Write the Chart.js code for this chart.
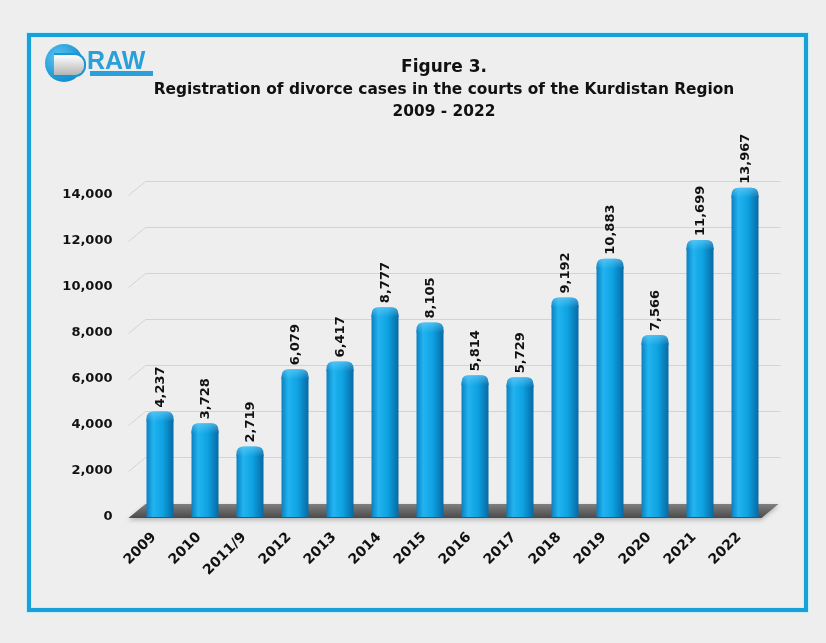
<!DOCTYPE html>
<html>
<head>
<meta charset="utf-8">
<script src="https://cdn.jsdelivr.net/npm/chart.js@4.4.1/dist/chart.umd.min.js"></script>
<style>
  html, body { margin: 0; padding: 0; background: #eeeeee; }
  #wrap { position: relative; width: 826px; height: 643px; overflow: hidden; }
  #frame {
    position: absolute; left: 27px; top: 33px; width: 781px; height: 579px;
    box-sizing: border-box; border: 4px solid #18a0d8;
    box-shadow: inset 0 0 0 1px #c8eef9, 0 0 0 1px #c8eef9;
    background: #eeeeee;
  }
  #chart { position: absolute; left: 0; top: 0; }
  #logo { position: absolute; left: 45px; top: 44px; width: 120px; height: 42px; }
  #logo .circle {
    position: absolute; left: 0; top: 0; width: 38px; height: 38px; border-radius: 50%;
    background: radial-gradient(circle at 35% 35%, #5cc6f2, #1490d0 70%);
  }
  #logo .d {
    position: absolute; left: 9px; top: 9px; width: 30px; height: 20px;
    border-radius: 0 11px 11px 0; background: linear-gradient(#ffffff, #b5b5b5);
    border: 2px solid #1a96d4; border-left: 0;
  }
  #logo .word {
    position: absolute; left: 42px; top: 2px; font: bold 25px "Liberation Sans", Arial, sans-serif;
    color: #2a9fd8;
  }
  #logo .bar {
    position: absolute; left: 45px; top: 27px; width: 63px; height: 5px; background: #2a9fd8;
  }
</style>
</head>
<body>
<div id="wrap">
  <div id="frame"></div>
  <canvas id="chart" width="826" height="643"></canvas>
  <div id="logo"><div class="circle"></div><div class="d"></div><div class="word">RAW</div><div class="bar"></div></div>
</div>
<script>
const years = ["2009", "2010", "2011/9", "2012", "2013", "2014", "2015", "2016", "2017", "2018", "2019", "2020", "2021", "2022"];
const divorceCases = [4237, 3728, 2719, 6079, 6417, 8777, 8105, 5814, 5729, 9192, 10883, 7566, 11699, 13967];
const yTicks = [0, 2000, 4000, 6000, 8000, 10000, 12000, 14000];

const fontFamily = "'DejaVu Sans', Verdana, sans-serif";
const depth = { dx: 17, dy: 14 };
const capHeight = 8;

function blueGradient(ctx, cx, half) {
    const g = ctx.createLinearGradient(cx - half, 0, cx + half, 0);
    g.addColorStop(0, "#0a7fbf");
    g.addColorStop(0.25, "#22b4f0");
    g.addColorStop(0.6, "#0ea2e2");
    g.addColorStop(1, "#066aa4");
    return g;
}

// perspective gridlines and the dark floor under the bars
const floorPlugin = {
    id: "floor",
    beforeDatasetsDraw(chart) {
        const { ctx, chartArea, scales } = chart;
        const left = chartArea.left - 9;
        ctx.save();
        ctx.strokeStyle = "#d3d3d3";
        ctx.lineWidth = 1;
        yTicks.forEach(v => {
            if (v === 0) return;
            const y = Math.round(scales.y.getPixelForValue(v)) + 0.5;
            ctx.beginPath();
            ctx.moveTo(left, y);
            ctx.lineTo(left + depth.dx, y - depth.dy);
            ctx.lineTo(chartArea.right + 13, y - depth.dy);
            ctx.stroke();
        });
        const y0 = scales.y.getPixelForValue(0) + 1;
        const right = chartArea.right - 6;
        const g = ctx.createLinearGradient(0, y0 - depth.dy, 0, y0);
        g.addColorStop(0, "#808080");
        g.addColorStop(1, "#4a4a4a");
        ctx.fillStyle = g;
        ctx.shadowColor = "rgba(0,0,0,0.25)";
        ctx.shadowBlur = 4;
        ctx.shadowOffsetY = 2;
        ctx.beginPath();
        ctx.moveTo(left, y0);
        ctx.lineTo(left + depth.dx, y0 - depth.dy);
        ctx.lineTo(right + depth.dx, y0 - depth.dy);
        ctx.lineTo(right, y0);
        ctx.closePath();
        ctx.fill();
        ctx.restore();
    }
};

// rounded cylinder caps and vertical value labels above each bar
const valueLabels = {
    id: "valueLabels",
    afterDatasetsDraw(chart) {
        const { ctx } = chart;
        const meta = chart.getDatasetMeta(0);
        ctx.save();
        meta.data.forEach(bar => {
            const half = bar.width / 2;
            const top = bar.y - capHeight;
            const r = half * 0.55;
            ctx.fillStyle = blueGradient(ctx, bar.x, half);
            ctx.beginPath();
            ctx.moveTo(bar.x - half, bar.y + 2);
            ctx.lineTo(bar.x - half, top + r);
            ctx.quadraticCurveTo(bar.x - half, top, bar.x - half + r, top);
            ctx.lineTo(bar.x + half - r, top);
            ctx.quadraticCurveTo(bar.x + half, top, bar.x + half, top + r);
            ctx.lineTo(bar.x + half, bar.y + 2);
            ctx.closePath();
            ctx.fill();
            const hl = ctx.createLinearGradient(0, top, 0, top + 10);
            hl.addColorStop(0, "rgba(120,210,250,0.55)");
            hl.addColorStop(1, "rgba(120,210,250,0)");
            ctx.fillStyle = hl;
            ctx.fill();
        });
        ctx.fillStyle = "#111111";
        ctx.font = "bold 13px " + fontFamily;
        ctx.textAlign = "left";
        ctx.textBaseline = "middle";
        meta.data.forEach((bar, i) => {
            ctx.save();
            ctx.translate(bar.x + 1, bar.y - capHeight - 4);
            ctx.rotate(-Math.PI / 2);
            ctx.fillText(divorceCases[i].toLocaleString("en-US"), 0, 0);
            ctx.restore();
        });
        ctx.restore();
    }
};

function barGradient(context) {
    const chart = context.chart;
    const xs = chart.scales.x;
    if (!xs || !chart.chartArea) return "#0aa0e0";
    return blueGradient(chart.ctx, xs.getPixelForValue(context.dataIndex), 13.5);
}

new Chart(document.getElementById("chart"), {
    type: "bar",
    data: {
        labels: years,
        datasets: [{
            data: divorceCases,
            backgroundColor: barGradient,
            borderWidth: 0,
            categoryPercentage: 1,
            barPercentage: 0.6
        }]
    },
    options: {
        responsive: false,
        animation: false,
        layout: { padding: { top: 57, left: 62, right: 0, bottom: 0 } },
        plugins: {
            legend: { display: false },
            tooltip: { enabled: false },
            title: {
                display: true,
                text: "Figure 3.",
                color: "#111111",
                font: { family: fontFamily, weight: "bold", size: 17, lineHeight: "22px" },
                padding: { top: 0, bottom: 0 }
            },
            subtitle: {
                display: true,
                text: ["Registration of divorce cases in the courts of the Kurdistan Region", "2009 - 2022"],
                color: "#111111",
                font: { family: fontFamily, weight: "bold", size: 15.4, lineHeight: "22px" },
                padding: { top: 0, bottom: 72 }
            }
        },
        scales: {
            x: {
                grid: { display: false },
                border: { display: false },
                ticks: { color: "#111111", font: { family: fontFamily, weight: "bold", size: 14 }, minRotation: 45, maxRotation: 45, padding: 4, labelOffset: -6 },
                afterFit(s) { s.height = 126; }
            },
            y: {
                min: 0,
                max: 14000,
                grid: { display: false },
                border: { display: false },
                afterBuildTicks(s) { s.ticks = yTicks.map(v => ({ value: v })); },
                ticks: {
                    color: "#111111",
                    font: { family: fontFamily, weight: "bold", size: 13 },
                    padding: 17,
                    callback: v => v.toLocaleString("en-US")
                },
                afterFit(s) { s.width = 75.5; }
            },
            y2: {
                position: "right",
                grid: { display: false },
                border: { display: false },
                ticks: { display: false },
                afterFit(s) { s.width = 58.5; }
            }
        }
    },
    plugins: [floorPlugin, valueLabels]
});
</script>
</body>
</html>
